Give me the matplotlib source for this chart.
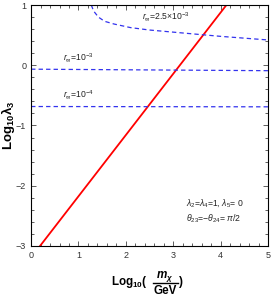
import numpy as np
import matplotlib
matplotlib.use("Agg")
import matplotlib.pyplot as plt
from matplotlib.lines import Line2D
from matplotlib.ticker import MultipleLocator

plt.rcParams["font.family"] = ["Liberation Sans", "DejaVu Sans"]
plt.rcParams["mathtext.fontset"] = "custom"
plt.rcParams["mathtext.rm"] = "Liberation Sans"
plt.rcParams["mathtext.it"] = "Liberation Sans:italic"
plt.rcParams["mathtext.bf"] = "Liberation Sans:bold"
plt.rcParams["mathtext.bfit"] = "Liberation Sans:italic:bold"

# red line (Log10 lambda3 vs Log10 m/GeV)
red_x = [0.19, 4.12]
red_y = [-3.0, 1.0]

# r_inf = 2.5e-3 curve
r25_x = [1.27, 1.32, 1.42, 1.55, 1.75, 2.1, 2.5, 3.0, 3.5, 4.0, 4.5, 5.0]
r25_y = [1.0, 0.9, 0.8, 0.73, 0.685, 0.625, 0.585, 0.55, 0.515, 0.48, 0.45, 0.42]

# r_inf = 1e-3 and 1e-4 lines
r3_x = [0.0, 5.0]
r3_y = [-0.065, -0.09]
r4_x = [0.0, 5.0]
r4_y = [-0.685, -0.69]

BLUE = "#3333ee"
W, H = 275, 297


def px(x, y):
    # pixel position -> figure fraction
    return x / W, 1 - y / H


fig = plt.figure(figsize=(2.75, 2.97), dpi=100)
ax = fig.add_axes([0.113, 0.172, 0.862, 0.811])

ax.plot(red_x, red_y, color="red", lw=1.3)
for xs, ys in [(r25_x, r25_y), (r3_x, r3_y), (r4_x, r4_y)]:
    ax.plot(xs, ys, color=BLUE, lw=0.9, ls=(0, (3.5, 2.5)))

ax.set_xlim(0, 5)
ax.set_ylim(-3, 1)
ax.xaxis.set_major_locator(MultipleLocator(1))
ax.xaxis.set_minor_locator(MultipleLocator(0.2))
ax.yaxis.set_minor_locator(MultipleLocator(0.2))
ax.tick_params(which="both", direction="in", top=True, right=True,
               labelsize=6.5, colors="#444444", width=0.6)
ax.tick_params(which="major", length=3.5)
ax.tick_params(which="minor", length=2)
ax.tick_params(axis="both", labelcolor="#333333")
for s in ax.spines.values():
    s.set_linewidth(0.8)
ax.set_yticks([-3, -2, -1, 0, 1])
ax.set_yticklabels(["\u22123", "\u22122", "\u22121", "0", "1"])

ax.set_ylabel(r"$\mathbf{Log_{10}}\boldsymbol{\lambda}_\mathbf{3}$", fontsize=9.5)
ax.yaxis.set_label_coords(-0.06, 0.5)

# x label built by hand: Log10( m_chi / GeV )
xfs = 8.4
fig.text(*px(148, 285.5), r"$\mathbf{Log_{10}(}$", fontsize=xfs, ha="right", va="baseline")
fig.text(*px(165, 277), r"$\mathbfit{m}_\mathbfit{\chi}$", fontsize=xfs, ha="center", va="center")
fig.add_artist(Line2D([153 / W, 178 / W], [1 - 283 / H, 1 - 283 / H],
                      color="black", lw=1.0, transform=fig.transFigure))
fig.text(*px(165.5, 294.5), "GeV", fontsize=xfs, fontweight="bold", ha="center", va="baseline")
fig.text(*px(178, 285.5), r"$\mathbf{)}$", fontsize=xfs, ha="left", va="baseline")

fs = 6.2
ax.text(2.85, 0.8, r"$\mathit{r}_\infty$=2.5$\times$10$^{-3}$", fontsize=fs, ha="center", va="center", color="#222222")
ax.text(1.0, 0.12, r"$\mathit{r}_\infty$=10$^{-3}$", fontsize=fs, ha="center", va="center", color="#222222")
ax.text(1.0, -0.49, r"$\mathit{r}_\infty$=10$^{-4}$", fontsize=fs, ha="center", va="center", color="#222222")
ax.text(3.88, -2.29, r"$\lambda_2$=$\lambda_4$=1, $\lambda_5$= 0", fontsize=fs, ha="center", va="center", color="#222222")
ax.text(3.85, -2.55, r"$\theta_{23}$=$-\theta_{24}$= $\pi$/2", fontsize=fs, ha="center", va="center", color="#222222")

fig.savefig("out.png", dpi=100)
